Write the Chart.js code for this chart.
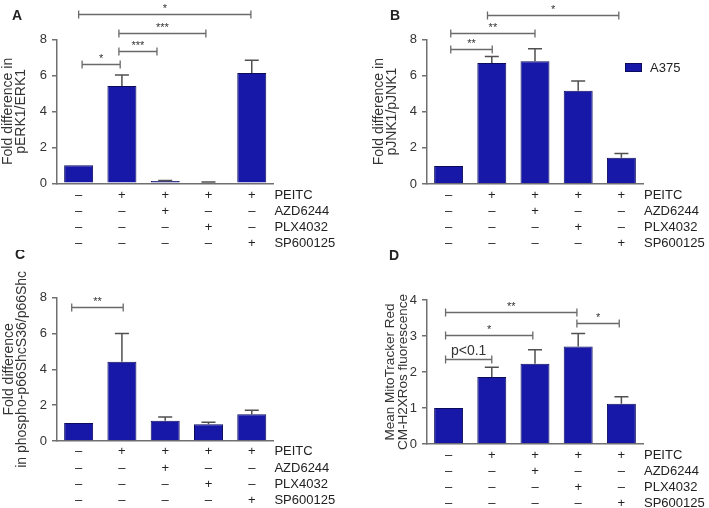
<!DOCTYPE html>
<html lang="en">
<head>
<meta charset="UTF-8" />
<title>PEITC signalling in A375</title>
<script src="https://cdn.jsdelivr.net/npm/chart.js"></script>
<style>
  body { margin: 0; background: #fff; }
  .fig { position: relative; width: 709px; height: 508px; overflow: hidden; }
  .fig canvas { position: absolute; }
</style>
</head>
<body>
<div class="fig">
  <canvas id="erkChart" width="355" height="250" style="left:0;top:0"></canvas>
  <canvas id="jnkChart" width="354" height="250" style="left:355px;top:0"></canvas>
  <canvas id="shcChart" width="355" height="258" style="left:0;top:250px"></canvas>
  <canvas id="mitoChart" width="354" height="258" style="left:355px;top:250px"></canvas>
</div>

<script>
  // treatment table under every panel
  const rowNames = ['PEITC', 'AZD6244', 'PLX4032', 'SP600125'];
  const peitc = ['–', '+', '+', '+', '+'];
  const azd   = ['–', '–', '+', '–', '–'];
  const plx   = ['–', '–', '–', '+', '–'];
  const sp    = ['–', '–', '–', '–', '+'];

  // mean and SEM
  const erkMean  = [1.0, 5.42, 0.13, 0.05, 6.14];
  const erkSem   = [0, 0.60, 0.03, 0.02, 0.71];
  const jnkMean  = [1.0, 6.69, 6.78, 5.16, 1.45];
  const jnkSem   = [0, 0.36, 0.70, 0.54, 0.23];
  const shcMean  = [1.0, 4.43, 1.13, 0.93, 1.49];
  const shcSem   = [0, 1.57, 0.21, 0.11, 0.22];
  const mitoMean = [1.0, 1.86, 2.23, 2.71, 1.12];
  const mitoSem  = [0, 0.27, 0.39, 0.36, 0.19];

  // significance brackets: from / to (category index), height (y units), label
  const erkSig  = [[0, 3.98, 9.44, '*'], [0.93, 2.94, 8.37, '***'], [0.93, 1.81, 7.35, '***'], [0.08, 0.96, 6.61, '*']];
  const jnkSig  = [[0.9, 3.94, 9.36, '*'], [0.05, 2.0, 8.37, '**'], [0.05, 1.01, 7.48, '**']];
  const shcSig  = [[-0.16, 1.03, 7.5, '**']];
  const mitoSig = [[-0.07, 2.97, 3.68, '**'], [2.97, 3.95, 3.35, '*'], [-0.07, 1.95, 3.04, '*'], [-0.07, 1.0, 2.35, 'p<0.1']];

  const labels = peitc.map((p, i) => [p, azd[i], plx[i], sp[i]]);

  Chart.defaults.font.family = '"Liberation Sans", Arial, sans-serif';
  Chart.defaults.color = '#222';

  const AXIS = '#707070';
  const BAR = '#1717a8';

  function panel(id, o) {
    const canvas = document.getElementById(id);
    const W = canvas.width, H = canvas.height;
    const padLeft = o.titleX - 6.5;

    const extras = {
      id: 'extras' + id,
      afterDatasetsDraw(chart) {
        const ctx = chart.ctx;
        const x = chart.scales.x, y = chart.scales.y;
        ctx.save();
        // error bars (upper whisker only)
        ctx.strokeStyle = '#505050';
        ctx.lineWidth = 1.5;
        o.mean.forEach((m, i) => {
          if (!o.sem[i]) return;
          const px = x.getPixelForValue(i);
          const y0 = y.getPixelForValue(m);
          const y1 = y.getPixelForValue(m + o.sem[i]);
          ctx.beginPath();
          ctx.moveTo(px, y0); ctx.lineTo(px, y1);
          ctx.moveTo(px - 7, y1); ctx.lineTo(px + 7, y1);
          ctx.stroke();
        });
        ctx.restore();
      },
      afterDraw(chart) {
        const ctx = chart.ctx;
        const x = chart.scales.x, y = chart.scales.y;
        const area = chart.chartArea;
        ctx.save();
        // brackets
        o.sig.forEach(([a, b, h, txt]) => {
          const x1 = x.getPixelForValue(a), x2 = x.getPixelForValue(b);
          const py = Math.round(y.getPixelForValue(h)) + 0.5;
          ctx.strokeStyle = '#6a6a6a';
          ctx.lineWidth = 1.3;
          ctx.beginPath();
          ctx.moveTo(x1, py); ctx.lineTo(x2, py);
          ctx.moveTo(x1, py - 4); ctx.lineTo(x1, py + 4);
          ctx.moveTo(x2, py - 4); ctx.lineTo(x2, py + 4);
          ctx.stroke();
          ctx.fillStyle = '#333';
          ctx.textAlign = 'center';
          ctx.textBaseline = 'alphabetic';
          if (txt.startsWith('p')) {
            ctx.font = '14px "Liberation Sans", Arial, sans-serif';
            ctx.fillText(txt, (x1 + x2) / 2, py - 5);
          } else {
            ctx.font = '11px "Liberation Sans", Arial, sans-serif';
            ctx.fillText(txt, (x1 + x2) / 2, py - 3);
          }
        });
        // row names of the treatment table
        ctx.fillStyle = '#222';
        ctx.font = '13px "Liberation Sans", Arial, sans-serif';
        ctx.textAlign = 'left';
        ctx.textBaseline = 'middle';
        rowNames.forEach((r, k) => {
          ctx.fillText(r, area.right + 1, x.top + o.rowPad + o.rowLh / 2 + k * o.rowLh);
        });
        // panel letter
        ctx.font = 'bold 14px "Liberation Sans", Arial, sans-serif';
        ctx.textAlign = 'center';
        ctx.fillText(o.letter, o.letterPos[0], o.letterPos[1]);
        // legend
        if (o.legend) {
          ctx.fillStyle = BAR;
          ctx.fillRect(o.legend[0], o.legend[1], 17, 9);
          ctx.strokeStyle = '#0b0b5e';
          ctx.lineWidth = 1;
          ctx.strokeRect(o.legend[0] + 0.5, o.legend[1] + 0.5, 16, 8);
          ctx.fillStyle = '#222';
          ctx.font = '13px "Liberation Sans", Arial, sans-serif';
          ctx.textAlign = 'left';
          ctx.fillText('A375', o.legend[0] + 25, o.legend[1] + 5);
        }
        ctx.restore();
      }
    };

    return new Chart(canvas, {
      type: 'bar',
      data: {
        labels: labels,
        datasets: [{
          label: 'A375',
          data: o.mean,
          backgroundColor: BAR,
          borderColor: '#0b0b5e',
          borderWidth: 1,
          categoryPercentage: 1,
          barPercentage: 0.67
        }]
      },
      options: {
        responsive: false,
        animation: false,
        layout: { padding: { left: padLeft, right: W - o.right, top: o.top, bottom: 0 } },
        plugins: { legend: { display: false }, tooltip: { enabled: false } },
        scales: {
          x: {
            afterFit: s => { s.height = H - o.bottom; },
            grid: { display: false, drawTicks: false },
            border: { color: AXIS, width: 1.5 },
            ticks: {
              autoSkip: false, maxRotation: 0, padding: o.rowPad,
              color: '#222',
              font: { size: 13, lineHeight: o.rowLh / 13 }
            }
          },
          y: {
            min: 0, max: o.yMax,
            afterFit: s => { s.width = o.left - padLeft; },
            grid: { drawOnChartArea: false, drawTicks: true, tickLength: 5, color: AXIS, lineWidth: 1.5 },
            border: { color: AXIS, width: 1.5 },
            ticks: { stepSize: o.step, padding: 5, color: '#333', font: { size: 13 } },
            title: {
              display: true, text: o.title, color: '#333',
              padding: { top: 0, bottom: 0 },
              font: { size: o.titleSize || 14, lineHeight: 13 / (o.titleSize || 14) }
            }
          }
        }
      },
      plugins: [extras]
    });
  }

  panel('erkChart', {
    mean: erkMean, sem: erkSem, sig: erkSig, letter: 'A', letterPos: [17, 16],
    title: ['Fold difference in', 'pERK1/ERK1'],
    left: 57, right: 273.4, top: 39.5, bottom: 183.3, titleX: 8,
    yMax: 8, step: 2, rowPad: 3.7, rowLh: 16
  });

  panel('jnkChart', {
    mean: jnkMean, sem: jnkSem, sig: jnkSig, letter: 'B', letterPos: [40, 16],
    title: ['Fold difference in', 'pJNK1/pJNK1'], legend: [270, 63],
    left: 72, right: 288, top: 39.3, bottom: 184, titleX: 24,
    yMax: 8, step: 2, rowPad: 3.7, rowLh: 16
  });

  panel('shcChart', {
    mean: shcMean, sem: shcSem, sig: shcSig, letter: 'C', letterPos: [20, 5],
    title: ['Fold difference', 'in phospho-p66ShcS36/p66Shc'],
    left: 57, right: 273.4, top: 47.7, bottom: 191, titleX: 9,
    yMax: 8, step: 2, rowPad: 2.5, rowLh: 16.4
  });

  panel('mitoChart', {
    mean: mitoMean, sem: mitoSem, sig: mitoSig, letter: 'D', letterPos: [39, 6],
    title: ['Mean MitoTracker Red', 'CM-H2XRos fluorescence'], titleSize: 13.5,
    left: 72, right: 288, top: 50, bottom: 194, titleX: 35,
    yMax: 4, step: 1, rowPad: 3, rowLh: 16
  });
</script>
</body>
</html>
